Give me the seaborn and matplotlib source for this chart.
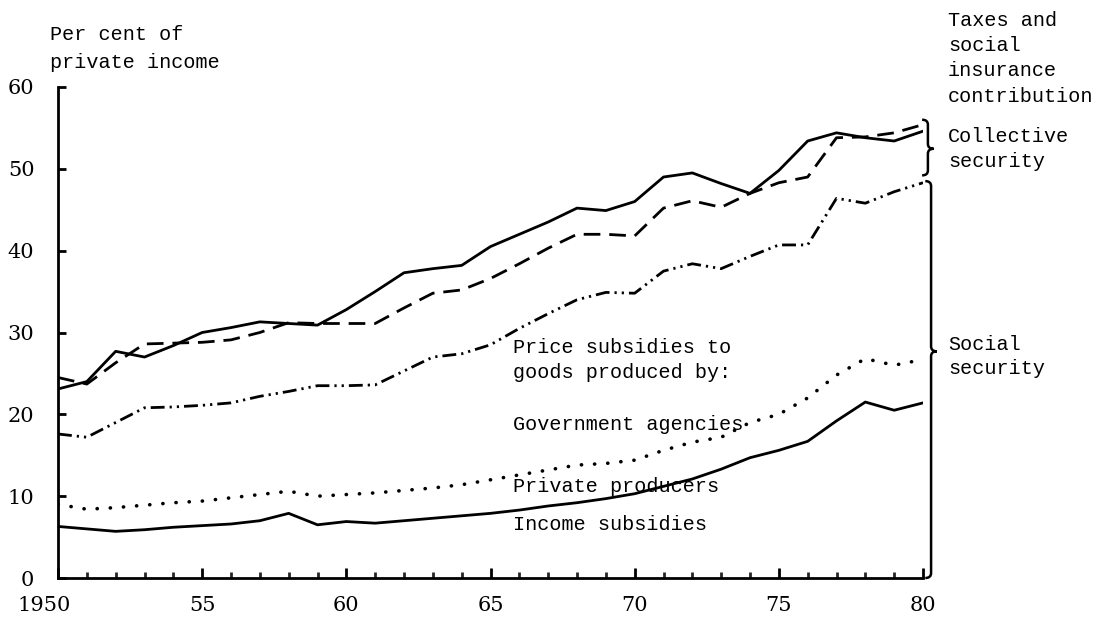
"""
Taxes and social insurance contributions as per cent of private income,
1950-80, redrawn from a scanned typewritten figure.
"""
import numpy as np
import pandas as pd
import matplotlib
matplotlib.use("Agg")
import matplotlib.pyplot as plt
from matplotlib.path import Path
from matplotlib.patches import PathPatch
from matplotlib.ticker import MultipleLocator
import matplotlib.transforms as mtransforms
import seaborn as sns

# --- data (per cent of private income) ---
years = list(range(1950, 1981))

taxes_total = [23.1, 24.0, 27.7, 27.0, 28.4, 30.0, 30.6, 31.3, 31.1, 30.9,
               32.8, 35.0, 37.3, 37.8, 38.2, 40.5, 42.0, 43.5, 45.2, 44.9,
               46.0, 49.0, 49.5, 48.2, 47.0, 49.8, 53.4, 54.4, 53.8, 53.4,
               54.6]
contributions = [24.5, 23.7, 26.3, 28.6, 28.7, 28.8, 29.1, 30.0, 31.2, 31.1,
                 31.1, 31.1, 33.0, 34.8, 35.2, 36.6, 38.4, 40.3, 42.0, 42.0,
                 41.8, 45.2, 46.1, 45.3, 47.0, 48.3, 49.0, 53.8, 53.9, 54.4,
                 55.4]
gov_agencies = [17.6, 17.2, 19.0, 20.8, 20.9, 21.1, 21.4, 22.2, 22.8, 23.5,
                23.5, 23.6, 25.3, 27.0, 27.4, 28.5, 30.5, 32.3, 34.0, 34.9,
                34.8, 37.5, 38.4, 37.8, 39.3, 40.7, 40.7, 46.4, 45.8, 47.2,
                48.3]
private_producers = [9.0, 8.4, 8.6, 8.9, 9.2, 9.4, 9.8, 10.2, 10.6, 10.0,
                     10.2, 10.4, 10.7, 11.0, 11.4, 12.0, 12.6, 13.2, 13.8, 14.0,
                     14.4, 15.6, 16.6, 17.2, 19.0, 20.0, 22.0, 24.8, 26.8, 26.0,
                     26.7]
income_subsidies = [6.3, 6.0, 5.7, 5.9, 6.2, 6.4, 6.6, 7.0, 7.9, 6.5,
                    6.9, 6.7, 7.0, 7.3, 7.6, 7.9, 8.3, 8.8, 9.2, 9.7,
                    10.3, 11.2, 12.1, 13.3, 14.7, 15.6, 16.7, 19.2, 21.5, 20.5,
                    21.4]

x_ticks_major = [1950, 1955, 1960, 1965, 1970, 1975, 1980]
x_tick_labels = ["1950", "55", "60", "65", "70", "75", "80"]
y_ticks = [0, 10, 20, 30, 40, 50, 60]

y_title = ["Per cent of", "private income"]
right_title = ["Taxes and", "social", "insurance", "contribution"]
collective_label = ["Collective", "security"]
social_label = ["Social", "security"]
inline_labels = ["Price subsidies to", "goods produced by:",
                 "Government agencies", "Private producers", "Income subsidies"]

df = pd.DataFrame({
    "year": years,
    "taxes_total": taxes_total,
    "contributions": contributions,
    "gov_agencies": gov_agencies,
    "private_producers": private_producers,
    "income_subsidies": income_subsidies,
})

sns.set_style("ticks")
plt.rcParams["font.family"] = ["Liberation Mono", "DejaVu Sans Mono"]

TYPE = dict(family=["Liberation Mono", "DejaVu Sans Mono"], fontsize=14.5,
            color="black")

fig = plt.figure(figsize=(11.03, 6.17), dpi=100)
ax = fig.add_axes([58 / 1103, 1 - 578 / 617, 865 / 1103, 491 / 617])

LW = 2.0
sns.lineplot(data=df, x="year", y="taxes_total", ax=ax, color="black",
             lw=LW, linestyle="-")
sns.lineplot(data=df, x="year", y="contributions", ax=ax, color="black",
             lw=LW, linestyle=(0, (6.0, 3.2)))
sns.lineplot(data=df, x="year", y="gov_agencies", ax=ax, color="black",
             lw=LW, linestyle=(0, (5.0, 1.8, 0.8, 1.8, 0.8, 1.8)))
sns.lineplot(data=df, x="year", y="private_producers", ax=ax, color="black",
             lw=2.6, linestyle=(0, (0.05, 3.6)), dash_capstyle="round")
sns.lineplot(data=df, x="year", y="income_subsidies", ax=ax, color="black",
             lw=LW, linestyle="-")

# axes
ax.set_xlim(1950, 1980)
ax.set_ylim(0, 60)
ax.set_xlabel("")
ax.set_ylabel("")
sns.despine(ax=ax, top=True, right=True)
for side in ("left", "bottom"):
    ax.spines[side].set_linewidth(2.0)
    ax.spines[side].set_color("black")

ax.set_xticks(x_ticks_major)
ax.set_xticklabels(x_tick_labels)
ax.xaxis.set_minor_locator(MultipleLocator(1))
ax.set_yticks(y_ticks)
ax.set_yticklabels([str(v) for v in y_ticks])
ax.tick_params(axis="x", which="major", direction="in", length=7, width=2.0,
               pad=13, labelsize=15, colors="black")
ax.tick_params(axis="x", which="minor", direction="in", length=4, width=2.0)
ax.tick_params(axis="y", which="major", direction="in", length=6, width=2.0,
               pad=17, labelsize=15, colors="black")
for lab in ax.get_xticklabels() + ax.get_yticklabels():
    lab.set_family(["DejaVu Serif", "Liberation Serif"])
# the "1950" label sits a little left of the axis in the original
first = ax.get_xticklabels()[0]
first.set_transform(first.get_transform()
                    + mtransforms.ScaledTranslation(-14 / 100, 0, fig.dpi_scale_trans))


def brace(ax, x, y0, y1, ytip, w=0.2, c=0.6):
    """Right-pointing curly brace drawn in data coordinates."""
    verts = [(x - w, y1),
             (x, y1), (x, y1 - c),
             (x, ytip + c),
             (x, ytip), (x + w, ytip),
             (x, ytip), (x, ytip - c),
             (x, y0 + c),
             (x, y0), (x - w, y0)]
    codes = [Path.MOVETO,
             Path.CURVE3, Path.CURVE3,
             Path.LINETO,
             Path.CURVE3, Path.CURVE3,
             Path.CURVE3, Path.CURVE3,
             Path.LINETO,
             Path.CURVE3, Path.CURVE3]
    patch = PathPatch(Path(verts, codes), fill=False, lw=1.8, ec="black",
                      clip_on=False)
    ax.add_patch(patch)


x_end = years[-1]
brace(ax, x_end + 0.17, gov_agencies[-1] + 0.9, contributions[-1] + 0.6,
      (gov_agencies[-1] + contributions[-1]) / 2 + 0.6)
brace(ax, x_end + 0.28, 0, gov_agencies[-1] + 0.2, private_producers[-1] + 1.0)

# labels around the plot
for i, line in enumerate(y_title):
    fig.text(50 / 1103, 1 - (35 + 27 * i) / 617, line, va="center", ha="left",
             **TYPE)
for i, line in enumerate(right_title):
    fig.text(948 / 1103, 1 - (20 + 25.5 * i) / 617, line, va="center",
             ha="left", **TYPE)
for i, line in enumerate(collective_label):
    fig.text(948 / 1103, 1 - (137 + 24 * i) / 617, line, va="center",
             ha="left", **TYPE)
for i, line in enumerate(social_label):
    fig.text(948 / 1103, 1 - (345 + 24 * i) / 617, line, va="center",
             ha="left", **TYPE)

inline_y = [348, 373, 425, 487, 525]
for text, py in zip(inline_labels, inline_y):
    fig.text(513 / 1103, 1 - py / 617, text, va="center", ha="left", **TYPE)

fig.savefig("out.png", dpi=100, facecolor="white")
